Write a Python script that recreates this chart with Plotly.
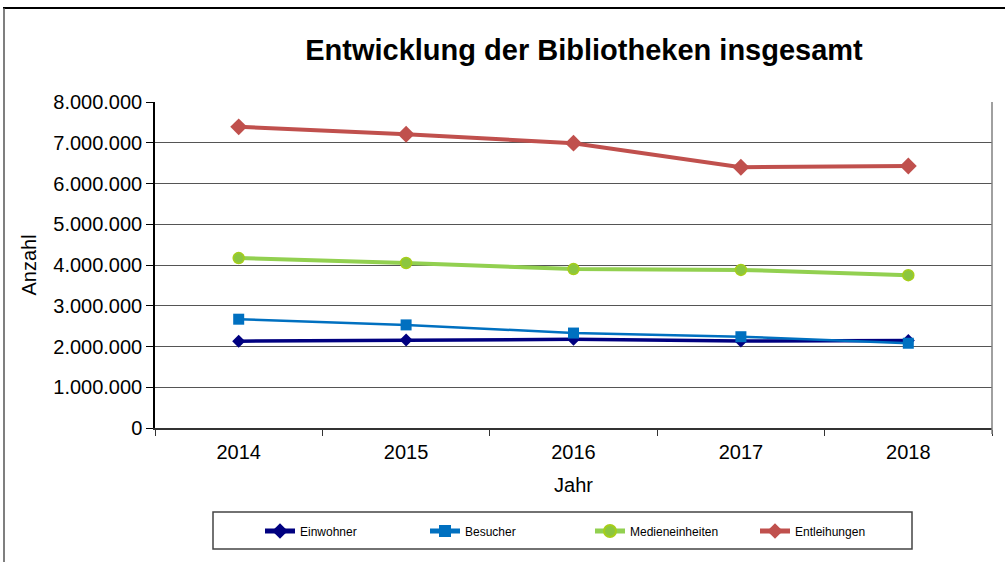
import plotly.graph_objects as go

# data
jahre = ['2014', '2015', '2016', '2017', '2018']
einwohner = [2130000, 2160000, 2175000, 2135000, 2150000]
besucher = [2670000, 2530000, 2330000, 2240000, 2080000]
medieneinheiten = [4170000, 4050000, 3900000, 3880000, 3750000]
entleihungen = [7390000, 7210000, 6990000, 6400000, 6430000]

y_ticks = [0, 1000000, 2000000, 3000000, 4000000, 5000000, 6000000, 7000000, 8000000]

FONT = 'Liberation Sans, Arial, sans-serif'

# plot area in pixels: x 155..992, y 102..428
L, R, T, B = 155, 992, 102, 428
W, H = 1005, 562


def px(x):
    return (x - L) / (R - L)


def py(y):
    return (B - y) / (B - T)


fig = go.Figure()
fig.add_trace(go.Scatter(x=jahre, y=einwohner, name='Einwohner', mode='lines+markers',
                         line=dict(color='#000080', width=3.5),
                         marker=dict(symbol='diamond', size=10, color='#000080')))
fig.add_trace(go.Scatter(x=jahre, y=besucher, name='Besucher', mode='lines+markers',
                         line=dict(color='#0070C0', width=2.5),
                         marker=dict(symbol='square', size=11, color='#0070C0')))
fig.add_trace(go.Scatter(x=jahre, y=medieneinheiten, name='Medieneinheiten', mode='lines+markers',
                         line=dict(color='#92D050', width=4),
                         marker=dict(symbol='circle', size=11, color='#8CC63F',
                                     line=dict(color='#A6CE1A', width=1.5))))
fig.add_trace(go.Scatter(x=jahre, y=entleihungen, name='Entleihungen', mode='lines+markers',
                         line=dict(color='#C0504D', width=4),
                         marker=dict(symbol='diamond', size=13, color='#C0504D')))

# outer chart border, legend box and right plot border
fig.add_shape(type='line', xref='paper', yref='paper', x0=px(3), x1=px(1010), y0=py(8), y1=py(8),
              line=dict(color='#000000', width=2))
fig.add_shape(type='line', xref='paper', yref='paper', x0=px(4), x1=px(4), y0=py(8), y1=py(570),
              line=dict(color='#555555', width=1.5))
fig.add_shape(type='rect', xref='paper', yref='paper', x0=px(213), x1=px(912), y0=py(512), y1=py(549),
              line=dict(color='#444444', width=1.5))
fig.add_shape(type='line', xref='paper', yref='paper', x0=1, x1=1, y0=py(434), y1=1,
              line=dict(color='#808080', width=1.5))

fig.update_layout(
    width=W, height=H,
    margin=dict(l=L, r=W - R, t=T, b=H - B),
    paper_bgcolor='white', plot_bgcolor='white',
    separators=',.',
    font=dict(family=FONT, color='#000000'),
    title=dict(text='<b>Entwicklung der Bibliotheken insgesamt</b>', x=584 / W, xanchor='center',
               y=1 - 50 / H, yanchor='middle', font=dict(size=29, family=FONT)),
    legend=dict(orientation='h', x=px(260), xanchor='left', y=py(531), yanchor='middle',
                font=dict(size=12, family=FONT), bgcolor='rgba(0,0,0,0)', borderwidth=0,
                entrywidth=120, itemsizing='constant', itemclick=False),
    showlegend=True,
)
fig.update_xaxes(type='category', range=[-0.5, 4.5], showgrid=False, showline=True,
                 linecolor='#333333', linewidth=1.5, ticks='outside', tickson='boundaries',
                 ticklen=6, tickcolor='#333333', tickfont=dict(size=20), ticklabelstandoff=5,
                 title=dict(text='Jahr', font=dict(size=20), standoff=16))
fig.update_yaxes(range=[0, 8000000], tickvals=y_ticks, tickformat=',d', showgrid=True,
                 gridcolor='#555555', gridwidth=1, showline=True, linecolor='#000000', linewidth=1.5,
                 ticks='outside', ticklen=7, tickcolor='#000000', tickfont=dict(size=20),
                 zeroline=False,
                 title=dict(text='Anzahl', font=dict(size=20), standoff=11))

fig.write_html('out.html', post_script="document.body.style.margin='0';",
               config={'displayModeBar': False})
